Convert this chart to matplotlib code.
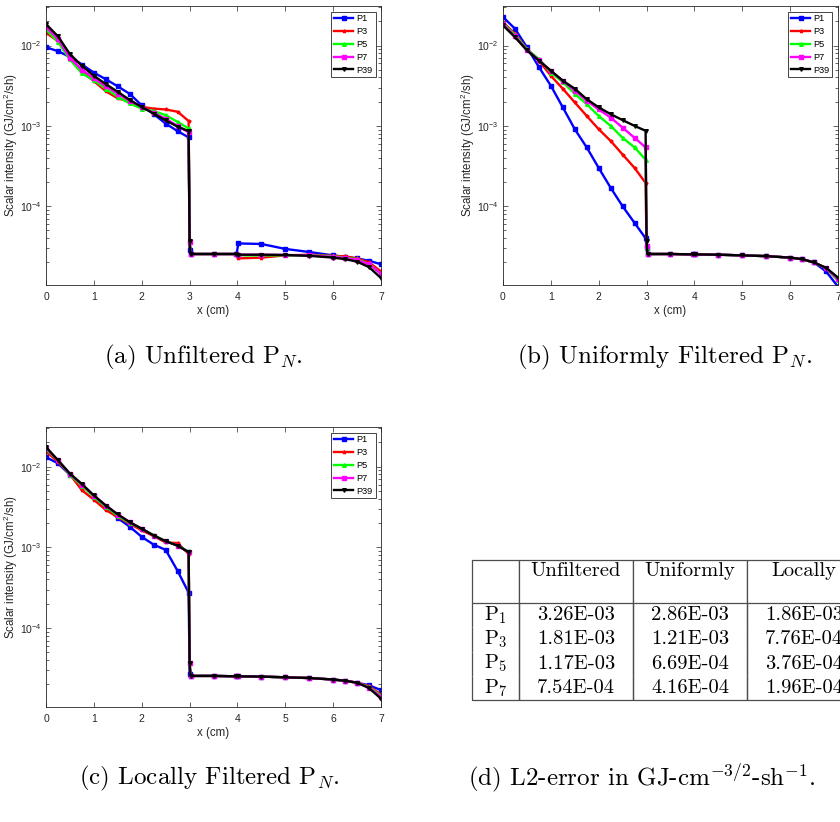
import numpy as np
import matplotlib
matplotlib.use('Agg')
import matplotlib.pyplot as plt
from matplotlib.table import Table

plt.rcParams['font.family'] = ['Liberation Sans', 'DejaVu Sans']
plt.rcParams['mathtext.fontset'] = 'custom'
plt.rcParams['mathtext.rm'] = 'Liberation Sans'
plt.rcParams['mathtext.it'] = 'Liberation Sans:italic'
plt.rcParams['mathtext.bf'] = 'Liberation Sans:bold'

# sample positions (cm)
x = [0, 0.25, 0.5, 0.75, 1.0, 1.25, 1.5, 1.75, 2.0, 2.25, 2.5, 2.75, 2.98, 3.0,
     3.02, 3.5, 3.98, 4.02, 4.5, 5.0, 5.5, 6.0, 6.25, 6.5, 6.75, 7.0]

labels = ['P1', 'P3', 'P5', 'P7', 'P39']
colors = ['#0000ff', '#ff0000', '#00ff00', '#ff00ff', '#000000']
markers = ['s', '*', '^', 's', 'v']

# (a) unfiltered
a_p1 = [9.5e-3, 8.5e-3, 7.2e-3, 5.8e-3, 4.6e-3, 3.8e-3, 3.1e-3, 2.5e-3, 1.8e-3, 1.4e-3, 1.07e-3, 8.6e-4, 7.2e-4,
        2.9e-5, 2.55e-5, 2.55e-5, 2.55e-5, 3.45e-5, 3.4e-5, 2.95e-5, 2.7e-5, 2.45e-5, 2.35e-5, 2.25e-5, 2.1e-5, 1.9e-5]
a_p3 = [1.44e-2, 1.13e-2, 7.3e-3, 4.75e-3, 3.6e-3, 2.7e-3, 2.2e-3, 2.0e-3, 1.72e-3, 1.64e-3, 1.6e-3, 1.5e-3, 1.15e-3,
        3.8e-5, 2.55e-5, 2.55e-5, 2.55e-5, 2.25e-5, 2.3e-5, 2.45e-5, 2.5e-5, 2.42e-5, 2.38e-5, 2.25e-5, 2.0e-5, 1.55e-5]
a_p5 = [1.59e-2, 1.1e-2, 6.7e-3, 4.5e-3, 3.7e-3, 2.9e-3, 2.3e-3, 1.9e-3, 1.64e-3, 1.53e-3, 1.36e-3, 1.12e-3, 9.3e-4,
        3.6e-5, 2.55e-5, 2.55e-5, 2.55e-5, 2.45e-5, 2.45e-5, 2.45e-5, 2.45e-5, 2.4e-5, 2.3e-5, 2.2e-5, 1.9e-5, 1.45e-5]
a_p7 = [1.7e-2, 1.2e-2, 7.0e-3, 5.0e-3, 3.9e-3, 3.1e-3, 2.5e-3, 2.05e-3, 1.72e-3, 1.45e-3, 1.23e-3, 1.0e-3, 8.3e-4,
        3.6e-5, 2.55e-5, 2.55e-5, 2.55e-5, 2.5e-5, 2.5e-5, 2.48e-5, 2.45e-5, 2.35e-5, 2.28e-5, 2.15e-5, 1.9e-5, 1.45e-5]
a_p39 = [1.84e-2, 1.3e-2, 7.8e-3, 5.6e-3, 4.2e-3, 3.3e-3, 2.65e-3, 2.1e-3, 1.72e-3, 1.42e-3, 1.17e-3, 9.8e-4, 8.6e-4,
         3.7e-5, 2.55e-5, 2.55e-5, 2.55e-5, 2.5e-5, 2.5e-5, 2.48e-5, 2.42e-5, 2.3e-5, 2.2e-5, 2.05e-5, 1.75e-5, 1.28e-5]

# (b) uniformly filtered
tail_b = [2.55e-5, 2.55e-5, 2.52e-5, 2.52e-5, 2.5e-5, 2.45e-5, 2.4e-5, 2.3e-5, 2.2e-5, 2.0e-5]
b_p1 = [2.26e-2, 1.62e-2, 9.5e-3, 5.4e-3, 3.16e-3, 1.7e-3, 9.1e-4, 5.4e-4, 3.0e-4, 1.7e-4, 1.0e-4, 6.2e-5, 4.0e-5,
        3.0e-5] + tail_b + [1.55e-5, 1.0e-5]
b_p3 = [1.95e-2, 1.4e-2, 9.0e-3, 6.5e-3, 4.2e-3, 2.9e-3, 1.96e-3, 1.33e-3, 9.1e-4, 6.5e-4, 4.4e-4, 3.0e-4, 1.95e-4,
        3.0e-5] + tail_b + [1.7e-5, 1.2e-5]
b_p5 = [1.9e-2, 1.35e-2, 9.0e-3, 6.8e-3, 4.6e-3, 3.5e-3, 2.5e-3, 1.86e-3, 1.33e-3, 1.0e-3, 7.1e-4, 5.4e-4, 3.8e-4,
        3.0e-5] + tail_b + [1.7e-5, 1.2e-5]
b_p7 = [1.85e-2, 1.3e-2, 8.8e-3, 6.6e-3, 4.8e-3, 3.65e-3, 2.74e-3, 2.05e-3, 1.6e-3, 1.27e-3, 9.5e-4, 7.1e-4, 5.4e-4,
        3.2e-5] + tail_b + [1.7e-5, 1.25e-5]
b_p39 = [1.78e-2, 1.27e-2, 8.7e-3, 6.5e-3, 4.87e-3, 3.65e-3, 2.9e-3, 2.15e-3, 1.7e-3, 1.4e-3, 1.18e-3, 1.0e-3, 8.7e-4,
         3.7e-5] + tail_b + [1.72e-5, 1.3e-5]

# (c) locally filtered
tail_c = [2.55e-5, 2.55e-5, 2.52e-5, 2.52e-5, 2.5e-5, 2.45e-5, 2.4e-5, 2.3e-5, 2.22e-5, 2.1e-5]
c_p1 = [1.31e-2, 1.1e-2, 7.9e-3, 5.9e-3, 4.3e-3, 3.16e-3, 2.3e-3, 1.8e-3, 1.35e-3, 1.08e-3, 9.3e-4, 5.1e-4, 2.74e-4,
        2.7e-5] + tail_c + [1.95e-5, 1.7e-5]
c_p3 = [1.54e-2, 1.15e-2, 8.0e-3, 5.1e-3, 3.9e-3, 2.9e-3, 2.37e-3, 1.96e-3, 1.62e-3, 1.38e-3, 1.15e-3, 1.13e-3, 8.3e-4,
        3.7e-5] + tail_c + [1.9e-5, 1.5e-5]
c_p5 = [1.65e-2, 1.2e-2, 7.9e-3, 5.8e-3, 4.2e-3, 3.2e-3, 2.45e-3, 2.0e-3, 1.7e-3, 1.42e-3, 1.2e-3, 1.05e-3, 8.9e-4,
        3.7e-5] + tail_c + [1.85e-5, 1.45e-5]
c_p7 = [1.7e-2, 1.2e-2, 8.1e-3, 6.0e-3, 4.35e-3, 3.3e-3, 2.55e-3, 2.05e-3, 1.7e-3, 1.4e-3, 1.19e-3, 1.05e-3, 8.7e-4,
        3.7e-5] + tail_c + [1.82e-5, 1.4e-5]
c_p39 = [1.75e-2, 1.2e-2, 8.2e-3, 6.1e-3, 4.4e-3, 3.3e-3, 2.56e-3, 2.05e-3, 1.7e-3, 1.4e-3, 1.19e-3, 1.05e-3, 8.7e-4,
         3.7e-5] + tail_c + [1.8e-5, 1.33e-5]

# (d) L2 errors
err_rows = ['P$_1$', 'P$_3$', 'P$_5$', 'P$_7$']
err_cols = ['Unfiltered', 'Uniformly', 'Locally']
err_vals = [['3.26E-03', '2.86E-03', '1.86E-03'],
            ['1.81E-03', '1.21E-03', '7.76E-04'],
            ['1.17E-03', '6.69E-04', '3.76E-04'],
            ['7.54E-04', '4.16E-04', '1.96E-04']]

gray = (0.15, 0.15, 0.15)

fig = plt.figure(figsize=(8.4, 8.22), dpi=100)


def draw_panel(rect, series):
    ax = fig.add_axes(rect)
    for y, lab, c, m in zip(series, labels, colors, markers):
        ax.plot(x, y, color=c, marker=m, markersize=2.6, lw=1.7, label=lab)
    ax.set_yscale('log')
    ax.set_xlim(0, 7)
    ax.set_ylim(1.05e-5, 3.1e-2)
    ax.set_xticks(range(8))
    ax.tick_params(which='both', direction='in', top=True, right=True, colors=gray,
                   labelsize=7.5, width=0.5)
    ax.tick_params(which='major', length=3.5)
    ax.tick_params(which='minor', length=2)
    ax.tick_params(axis='x', which='major', pad=5)
    ax.tick_params(axis='y', which='major', pad=3)
    for s in ax.spines.values():
        s.set_color(gray)
        s.set_linewidth(0.6)
    ax.set_xlabel('x (cm)', fontsize=8.3, color=gray, labelpad=2)
    ax.set_ylabel('Scalar intensity (GJ/cm$^2$/sh)', fontsize=8.3, color=gray)
    ax.yaxis.set_label_coords(-0.078, 0.5)
    leg = ax.legend(loc='upper right', fontsize=6.6, fancybox=False, framealpha=1,
                    edgecolor=gray, labelspacing=0.42, handlelength=2.1, handletextpad=0.35,
                    borderpad=0.3, borderaxespad=0.6)
    leg.get_frame().set_linewidth(0.6)
    return ax


draw_panel([0.0548, 0.6533, 0.3988, 0.3394], [a_p1, a_p3, a_p5, a_p7, a_p39])
draw_panel([0.5988, 0.6533, 0.3988, 0.3394], [b_p1, b_p3, b_p5, b_p7, b_p39])
draw_panel([0.0548, 0.1399, 0.3988, 0.3406], [c_p1, c_p3, c_p5, c_p7, c_p39])

# table panel
tax = fig.add_axes([0.5619, 0.1484, 0.463, 0.1703])
tax.set_axis_off()
tb = Table(tax, bbox=[0, 0, 1, 1])
col_w = [0.121, 0.293, 0.293, 0.293]
head_h, row_h = 0.307, 0.173
tb.add_cell(0, 0, col_w[0], head_h, text='', loc='center')
for j, name in enumerate(err_cols):
    tb.add_cell(0, j + 1, col_w[j + 1], head_h, text=name + '\n', loc='center')
for i, rname in enumerate(err_rows):
    row = [rname] + err_vals[i]
    for j, t in enumerate(row):
        tb.add_cell(i + 1, j, col_w[j], row_h, text=t, loc='center')
tb.auto_set_font_size(False)
tb.set_fontsize(14.8)
for (r, c), cell in tb.get_celld().items():
    cell.set_edgecolor((0.3, 0.3, 0.3))
    cell.set_linewidth(0.9)
    if r == 0:
        cell.visible_edges = 'closed'
    elif r == len(err_rows):
        cell.visible_edges = 'BLR'
    else:
        cell.visible_edges = 'LR'
    cell.get_text().set_fontfamily('cmr10')
    cell.get_text().set_math_fontfamily('cm')
    cell.get_text().set_color('black')
tax.add_table(tb)

# captions
cap_kw = dict(ha='center', va='center', fontsize=18, fontfamily='cmr10', math_fontfamily='cm')
fig.text(203 / 840, 1 - 357 / 822, r'(a) Unfiltered P$_N$.', **cap_kw)
fig.text(664 / 840, 1 - 357 / 822, r'(b) Uniformly Filtered P$_N$.', **cap_kw)
fig.text(209 / 840, 1 - 778 / 822, r'(c) Locally Filtered P$_N$.', **cap_kw)
fig.text(642 / 840, 1 - 778 / 822, r'(d) L2-error in GJ-cm$^{-3/2}$-sh$^{-1}$.', **cap_kw)

fig.savefig('out.png', dpi=100)
